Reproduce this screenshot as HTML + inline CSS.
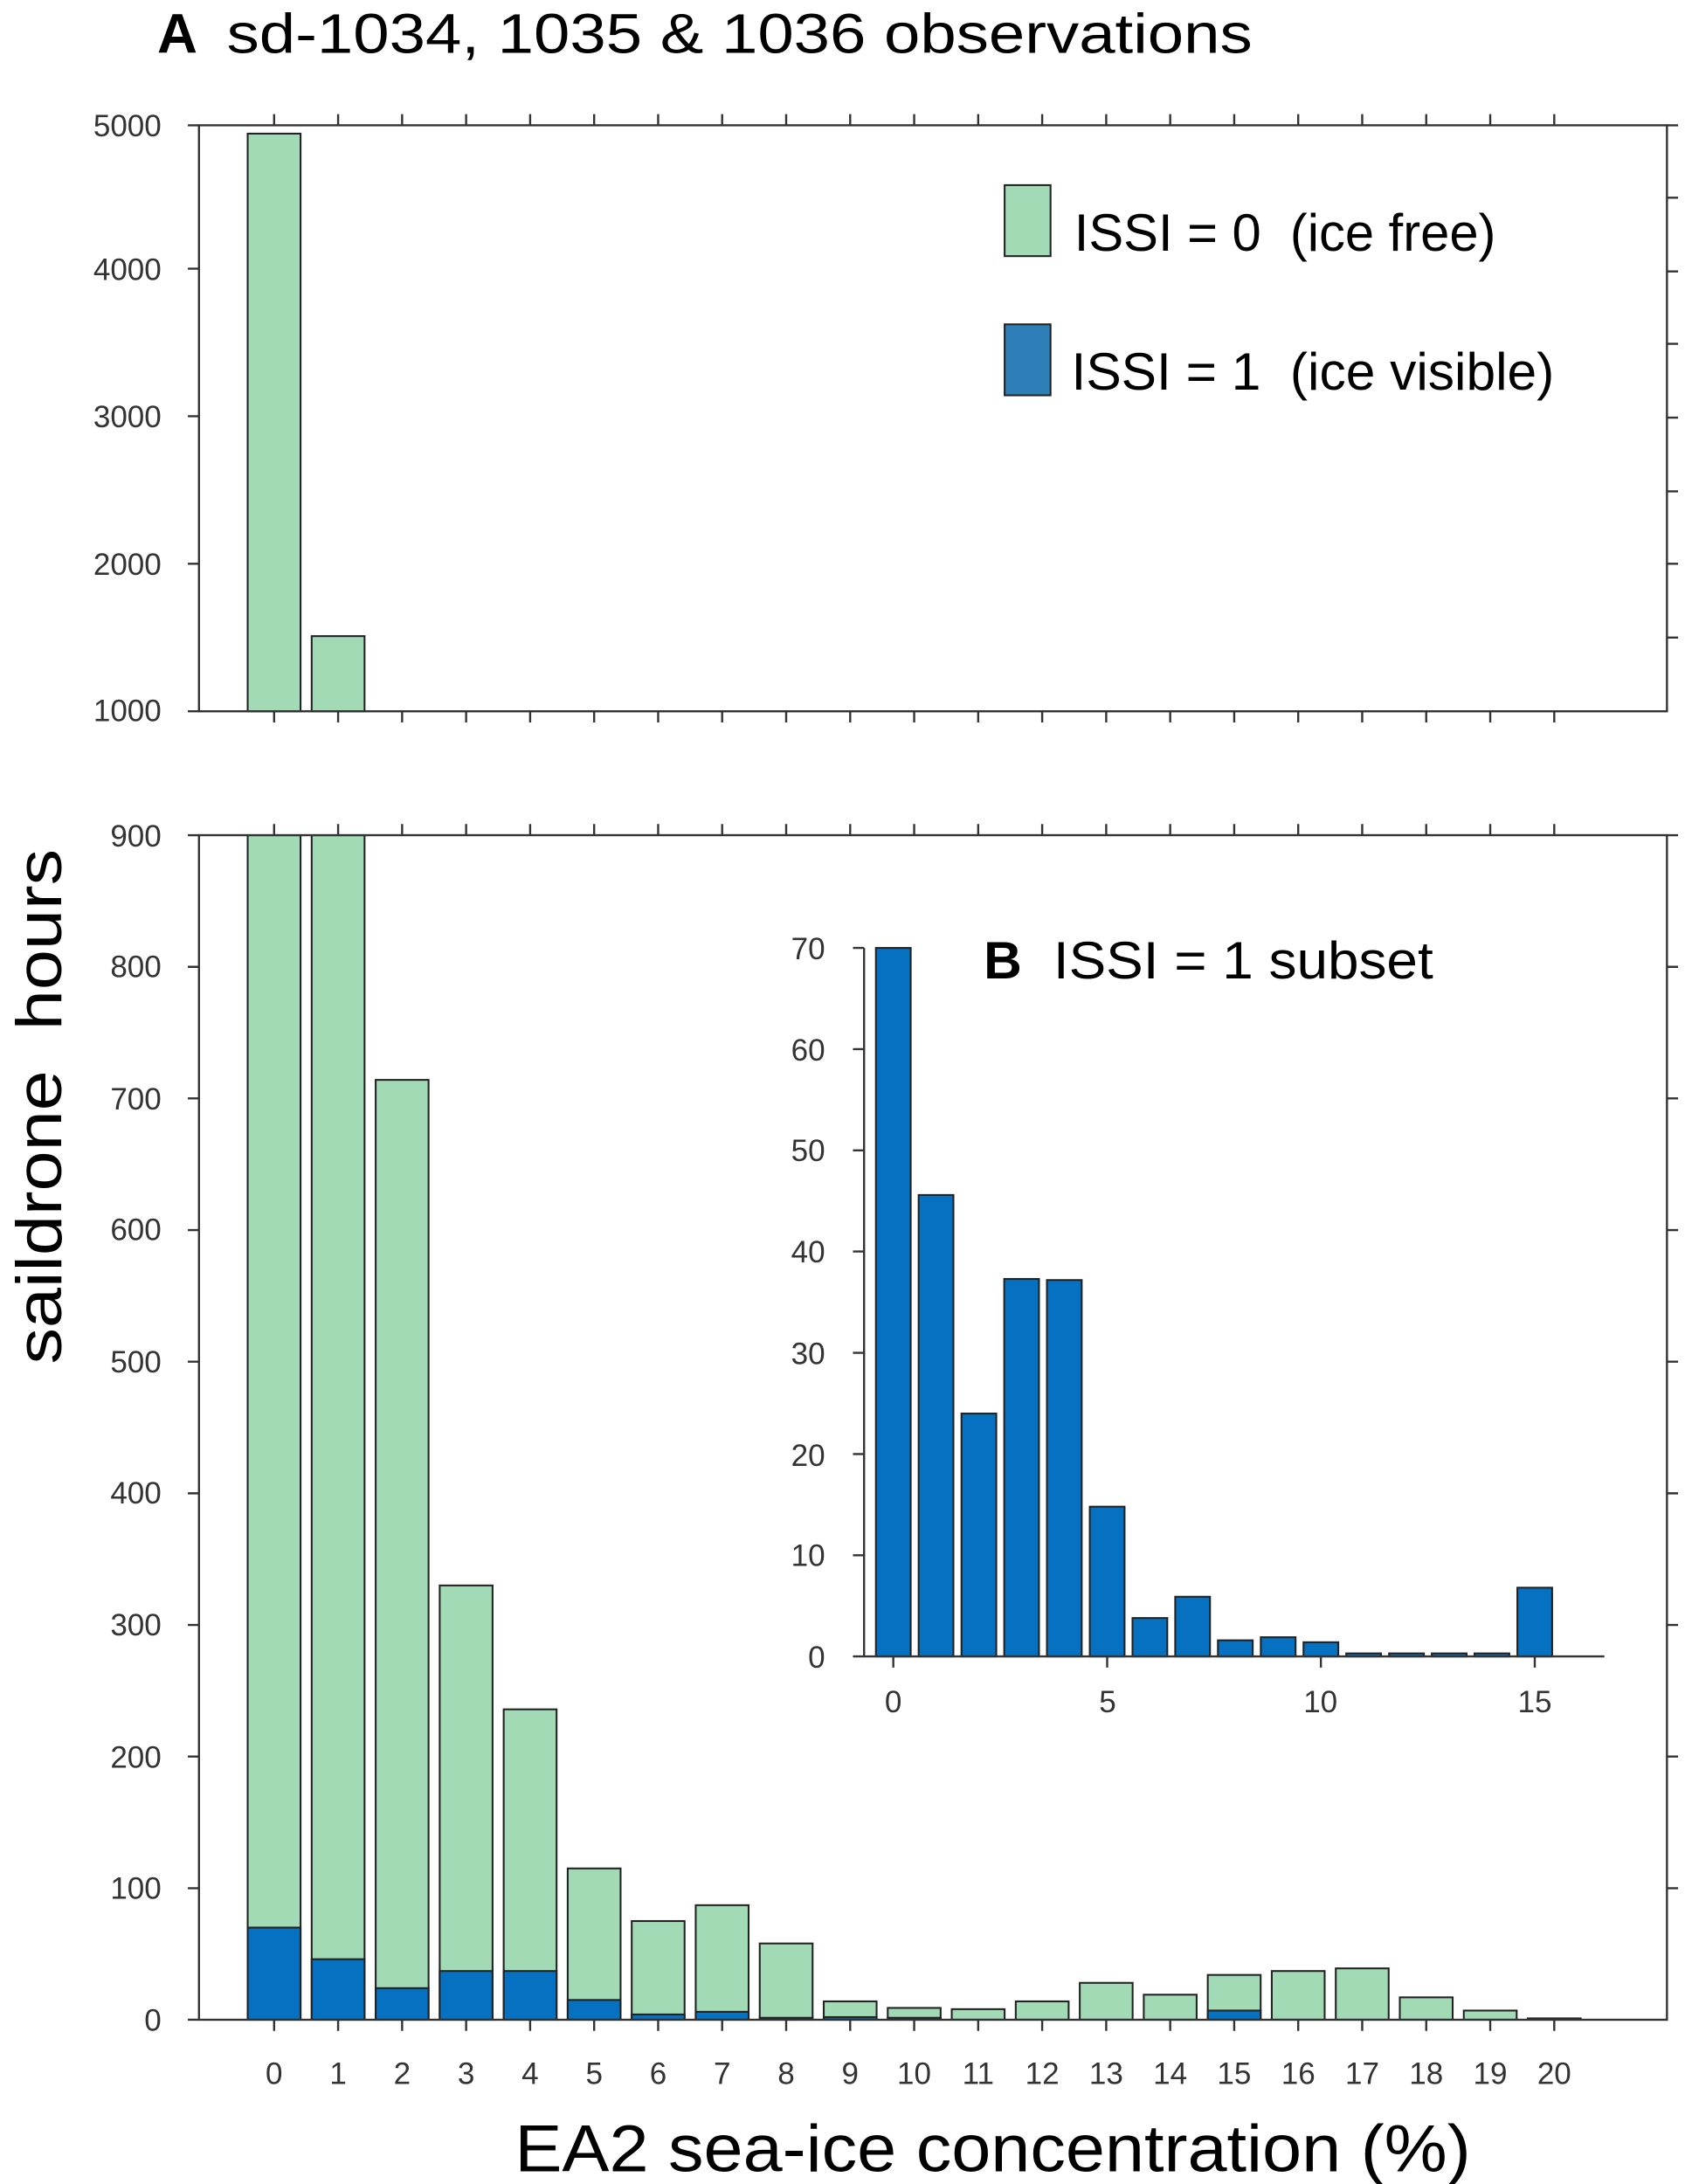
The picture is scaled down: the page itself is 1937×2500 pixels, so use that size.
<!DOCTYPE html>
<html><head><meta charset="utf-8"><style>
html,body{margin:0;padding:0;background:#fff}
svg{display:block}
text{font-family:"Liberation Sans",Arial,sans-serif}
.t{font-size:22px;fill:#333}
</style></head><body>
<svg width="1937" height="2500" viewBox="0 0 1216 1569" preserveAspectRatio="none" xmlns="http://www.w3.org/2000/svg">
<rect width="1216" height="1569" fill="#fff"/>
<text x="113" y="38" font-size="40" font-weight="bold">A</text>
<text x="163" y="38" font-size="40" textLength="737" lengthAdjust="spacingAndGlyphs">sd-1034, 1035 &amp; 1036 observations</text>

<!-- Panel A -->
<g fill="#a2dab6" stroke="#222" stroke-width="1.3">
<rect x="178" y="96" width="38" height="415"/>
<rect x="224" y="457" width="38" height="54"/>
</g>
<rect x="143" y="90" width="1055" height="421" fill="none" stroke="#333" stroke-width="1.5"/>
<g stroke="#333" stroke-width="1.5">
<path d="M135 90h8M135 193h8M135 299h8M135 405h8M135 511h8"/>
<path d="M1198 90h8M1198 142h8M1198 195h8M1198 247h8M1198 300h8M1198 353h8M1198 405h8M1198 458h8"/>
<path d="M197 511v8M243 511v8M289 511v8M335 511v8M381 511v8M427 511v8M473 511v8M519 511v8M565 511v8M611 511v8M657 511v8M703 511v8M749 511v8M795 511v8M841 511v8M887 511v8M933 511v8M979 511v8M1025 511v8M1071 511v8M1117 511v8"/>
<path d="M197 90v-8M243 90v-8M289 90v-8M335 90v-8M381 90v-8M427 90v-8M473 90v-8M519 90v-8M565 90v-8M611 90v-8M657 90v-8M703 90v-8M749 90v-8M795 90v-8M841 90v-8M887 90v-8M933 90v-8M979 90v-8M1025 90v-8M1071 90v-8M1117 90v-8"/>
</g>
<g class="t" text-anchor="end" fill="#222">
<text x="116" y="98">5000</text><text x="116" y="201">4000</text><text x="116" y="307">3000</text><text x="116" y="413">2000</text><text x="116" y="518">1000</text>
</g>
<rect x="722" y="133" width="33" height="51" fill="#a2dab6" stroke="#222" stroke-width="1.3"/>
<text x="772" y="180" font-size="38" textLength="303" lengthAdjust="spacingAndGlyphs" xml:space="preserve">ISSI = 0  (ice free)</text>
<rect x="722" y="233" width="33" height="51" fill="#2e7fb8" stroke="#222" stroke-width="1.3"/>
<text x="770" y="280" font-size="38" textLength="347" lengthAdjust="spacingAndGlyphs" xml:space="preserve">ISSI = 1  (ice visible)</text>

<!-- Panel lower -->
<g fill="#a2dab6" stroke="#222" stroke-width="1.3">
<rect x="178" y="600" width="38" height="851"/>
<rect x="224" y="600" width="38" height="851"/>
<rect x="270" y="775.8" width="38" height="675.2"/>
<rect x="316" y="1139" width="38" height="312"/>
<rect x="362" y="1228" width="38" height="223"/>
<rect x="408" y="1342.3" width="38" height="108.7"/>
<rect x="454" y="1380.1" width="38" height="70.9"/>
<rect x="500" y="1368.7" width="38" height="82.3"/>
<rect x="546" y="1396.2" width="38" height="54.8"/>
<rect x="592" y="1437.8" width="38" height="13.2"/>
<rect x="638" y="1442.5" width="38" height="8.5"/>
<rect x="684" y="1443.4" width="38" height="7.6"/>
<rect x="730" y="1437.8" width="38" height="13.2"/>
<rect x="776" y="1424.5" width="38" height="26.5"/>
<rect x="822" y="1433" width="38" height="18"/>
<rect x="868" y="1418.8" width="38" height="32.2"/>
<rect x="914" y="1416" width="38" height="35"/>
<rect x="960" y="1414.1" width="38" height="36.9"/>
<rect x="1006" y="1434.9" width="38" height="16.1"/>
<rect x="1052" y="1444.4" width="38" height="6.6"/>
<rect x="1098" y="1450" width="38" height="1"/>
</g>
<g fill="#0571c0" stroke="#222" stroke-width="1.3">
<rect x="178" y="1384.8" width="38" height="66.2"/>
<rect x="224" y="1407.5" width="38" height="43.5"/>
<rect x="270" y="1428.3" width="38" height="22.7"/>
<rect x="316" y="1416" width="38" height="35"/>
<rect x="362" y="1416" width="38" height="35"/>
<rect x="408" y="1436.8" width="38" height="14.2"/>
<rect x="454" y="1447.2" width="38" height="3.8"/>
<rect x="500" y="1445.3" width="38" height="5.7"/>
<rect x="546" y="1449.6" width="38" height="1.4"/>
<rect x="592" y="1449.1" width="38" height="1.9"/>
<rect x="638" y="1449.6" width="38" height="1.4"/>
<rect x="868" y="1444.4" width="38" height="6.6"/>
</g>
<rect x="143" y="600" width="1055" height="851" fill="none" stroke="#333" stroke-width="1.5"/>
<g stroke="#333" stroke-width="1.5">
<path d="M135 600h8M135 694.6h8M135 789.1h8M135 883.7h8M135 978.2h8M135 1072.8h8M135 1167.4h8M135 1261.9h8M135 1356.5h8M135 1451h8"/>
<path d="M1198 600h8M1198 694.6h8M1198 789.1h8M1198 883.7h8M1198 978.2h8M1198 1072.8h8M1198 1167.4h8M1198 1261.9h8M1198 1356.5h8"/>
<path d="M197 1451v8M243 1451v8M289 1451v8M335 1451v8M381 1451v8M427 1451v8M473 1451v8M519 1451v8M565 1451v8M611 1451v8M657 1451v8M703 1451v8M749 1451v8M795 1451v8M841 1451v8M887 1451v8M933 1451v8M979 1451v8M1025 1451v8M1071 1451v8M1117 1451v8"/>
<path d="M197 600v-8M243 600v-8M289 600v-8M335 600v-8M381 600v-8M427 600v-8M473 600v-8M519 600v-8M565 600v-8M611 600v-8M657 600v-8M703 600v-8M749 600v-8M795 600v-8M841 600v-8M887 600v-8M933 600v-8M979 600v-8M1025 600v-8M1071 600v-8M1117 600v-8"/>
</g>
<g class="t" text-anchor="end">
<text x="116" y="608">900</text><text x="116" y="702">800</text><text x="116" y="797">700</text><text x="116" y="891">600</text><text x="116" y="986">500</text><text x="116" y="1080">400</text><text x="116" y="1175">300</text><text x="116" y="1270">200</text><text x="116" y="1364">100</text><text x="116" y="1459">0</text>
</g>
<g class="t" text-anchor="middle">
<text x="197" y="1497">0</text><text x="243" y="1497">1</text><text x="289" y="1497">2</text><text x="335" y="1497">3</text><text x="381" y="1497">4</text><text x="427" y="1497">5</text><text x="473" y="1497">6</text><text x="519" y="1497">7</text><text x="565" y="1497">8</text><text x="611" y="1497">9</text><text x="657" y="1497">10</text><text x="703" y="1497">11</text><text x="749" y="1497">12</text><text x="795" y="1497">13</text><text x="841" y="1497">14</text><text x="887" y="1497">15</text><text x="933" y="1497">16</text><text x="979" y="1497">17</text><text x="1025" y="1497">18</text><text x="1071" y="1497">19</text><text x="1117" y="1497">20</text>
</g>
<text transform="translate(44,980) rotate(-90)" font-size="46" textLength="370" lengthAdjust="spacingAndGlyphs" xml:space="preserve">saildrone  hours</text>
<text x="370" y="1560" font-size="48" textLength="687" lengthAdjust="spacingAndGlyphs">EA2 sea-ice concentration (%)</text>

<!-- Inset B -->
<rect x="625" y="672" width="530" height="530" fill="#fff"/>
<g fill="#0571c0" stroke="#222" stroke-width="1.3">
<rect x="629.5" y="681" width="25" height="509"/>
<rect x="660.2" y="858.5" width="25" height="331.5"/>
<rect x="691" y="1015.5" width="25" height="174.5"/>
<rect x="721.7" y="918.8" width="25" height="271.2"/>
<rect x="752.4" y="919.6" width="25" height="270.4"/>
<rect x="783.2" y="1082.4" width="25" height="107.6"/>
<rect x="813.9" y="1162.4" width="25" height="27.6"/>
<rect x="844.6" y="1147.1" width="25" height="42.9"/>
<rect x="875.3" y="1178.4" width="25" height="11.6"/>
<rect x="906.1" y="1176.2" width="25" height="13.8"/>
<rect x="936.8" y="1179.8" width="25" height="10.2"/>
<rect x="967.5" y="1187.8" width="25" height="2.2"/>
<rect x="998.3" y="1187.8" width="25" height="2.2"/>
<rect x="1029" y="1187.8" width="25" height="2.2"/>
<rect x="1059.7" y="1187.8" width="25" height="2.2"/>
<rect x="1090.5" y="1140.6" width="25" height="49.4"/>
</g>
<g stroke="#333" stroke-width="1.5" fill="none">
<path d="M621 681V1190H1153"/>
<path d="M613 681h8M613 753.7h8M613 826.4h8M613 899.1h8M613 971.9h8M613 1044.6h8M613 1117.3h8M613 1190h8"/>
<path d="M642 1190v8M795.7 1190v8M949.3 1190v8M1103 1190v8"/>
</g>
<g class="t" text-anchor="end">
<text x="593" y="689">70</text><text x="593" y="762">60</text><text x="593" y="834">50</text><text x="593" y="907">40</text><text x="593" y="980">30</text><text x="593" y="1053">20</text><text x="593" y="1125">10</text><text x="593" y="1198">0</text>
</g>
<g class="t" text-anchor="middle">
<text x="642" y="1230">0</text><text x="796" y="1230">5</text><text x="949" y="1230">10</text><text x="1103" y="1230">15</text>
</g>
<text x="707" y="703" font-size="38" font-weight="bold">B</text>
<text x="757" y="703" font-size="38" textLength="273" lengthAdjust="spacingAndGlyphs">ISSI = 1 subset</text>
</svg>
</body></html>
